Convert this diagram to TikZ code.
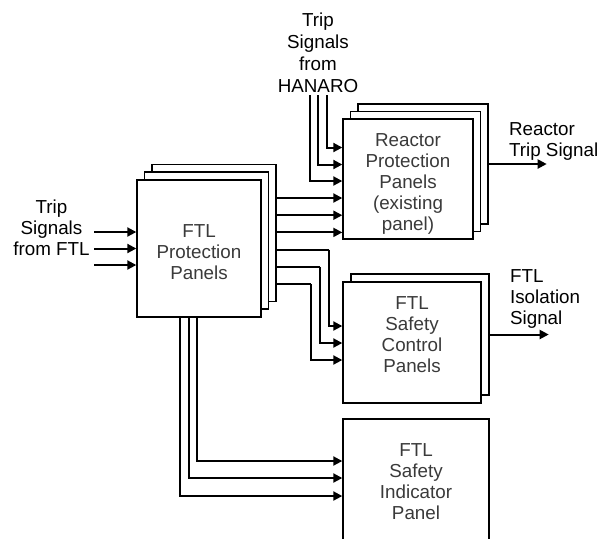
\documentclass[tikz,border=0pt]{standalone}
\usepackage{fontspec}
\setmainfont{Liberation Sans}
\usetikzlibrary{arrows.meta, positioning}
\definecolor{boxtext}{HTML}{3A3A3A}

\begin{document}
\begin{tikzpicture}[x=0.5pt, y=-0.5pt,
      every node/.style={font=\fontsize{9.4}{10.5}\selectfont},
      panel/.style={draw, fill=white, line width=0.7pt, inner sep=0pt},
      paneltext/.style={align=center, text=boxtext, inner sep=0pt},
      arr/.style={-{Triangle[length=4.5pt, width=4.5pt]}, line width=1pt},
      wire/.style={line width=1pt},
      lbl/.style={align=center, inner sep=1pt}
    ]
    \useasboundingbox (0,0) rectangle (604,538);
    \clip (0,0) rectangle (604,538);

    \node[panel, minimum width=62pt, minimum height=68.5pt] (ftlprotC) at (214,233) {};
    \node[panel, minimum width=62pt, minimum height=68.5pt] (ftlprotB) at (206.5,240.5) {};
    \node[panel, minimum width=62pt, minimum height=68.5pt,
          label={[paneltext, yshift=-2pt]center:FTL\\Protection\\Panels}] (ftlprot) at (199,248.5) {};

    \node[panel, minimum width=65pt, minimum height=60pt] (rppC) at (423,164) {};
    \node[panel, minimum width=65pt, minimum height=60pt] (rppB) at (415.5,171.5) {};
    \node[panel, minimum width=65pt, minimum height=60pt,
          label={[paneltext, yshift=-2.5pt]center:Reactor\\Protection\\Panels\\(existing\\panel)}] (rpp) at (408,179) {};

    \node[panel, minimum width=69pt, minimum height=60.5pt] (scpB) at (420,334.5) {};
    \node[panel, minimum width=69pt, minimum height=60.5pt,
          label={[paneltext, yshift=3.75pt]center:FTL\\Safety\\Control\\Panels}] (scp) at (412,342.5) {};

    \node[panel, minimum width=73pt, minimum height=62pt,
          label={[paneltext, yshift=-0.5pt]center:FTL\\Safety\\Indicator\\Panel}] (sip) at (416,481) {};

    \node[lbl, anchor=east] (ftlin) at (92,228) {Trip\\Signals\\from FTL};
    \node[lbl, anchor=south, font=\fontsize{9.4}{11}\selectfont] (hanaro) at (318,95) {Trip\\Signals\\from\\HANARO};

    \foreach \s in {8.25pt, 0pt, -8.25pt}
      \draw[arr] ([yshift=\s, xshift=1pt]ftlin.east |- ftlprot.west) -- ([yshift=\s]ftlprot.west);

    \foreach \dx/\s in {4.5pt/15.75pt, 0pt/7.25pt, -4pt/-1pt}
      \draw[arr] ([xshift=\dx]hanaro.south) |- ([yshift=\s]rpp.west);

    \foreach \s in {17.5pt, 8.9pt, 0.3pt}
      \draw[arr] ([yshift=\s]ftlprotC.east) -- ([yshift=\s]ftlprotC.east -| rpp.west);

    \draw[wire] ([yshift=-8.3pt]ftlprotC.east) -- ++(52,0) coordinate (k1);
    \draw[arr] (k1) |- ([yshift=8.25pt]scp.west);
    \draw[wire] ([yshift=-16.9pt]ftlprotC.east) -- ++(43,0) coordinate (k2);
    \draw[arr] (k2) |- ([yshift=-0.25pt]scp.west);
    \draw[wire] ([yshift=-25.5pt]ftlprotC.east) -- ++(34,0) coordinate (k3);
    \draw[arr] (k3) |- ([yshift=-8.75pt]scp.west);

    \foreach \dx/\s in {-1pt/10pt, -5pt/1.5pt, -9.5pt/-7.5pt}
      \draw[arr] ([xshift=\dx]ftlprot.south) |- ([yshift=\s]sip.west);

    \draw[arr] (rppC.east) -- ++(58,0) coordinate (rtrip);
    \node[lbl, align=left, anchor=south west] (rtriplbl) at ([xshift=-20pt, yshift=0.8pt]rtrip) {Reactor\\Trip Signal};

    \draw[arr] (scpB.east) -- ++(59,0) coordinate (isol);
    \node[lbl, align=left, anchor=south west] (isollbl) at ([xshift=-20.5pt, yshift=2pt]isol) {FTL\\Isolation\\Signal};
  \end{tikzpicture}
\end{document}
